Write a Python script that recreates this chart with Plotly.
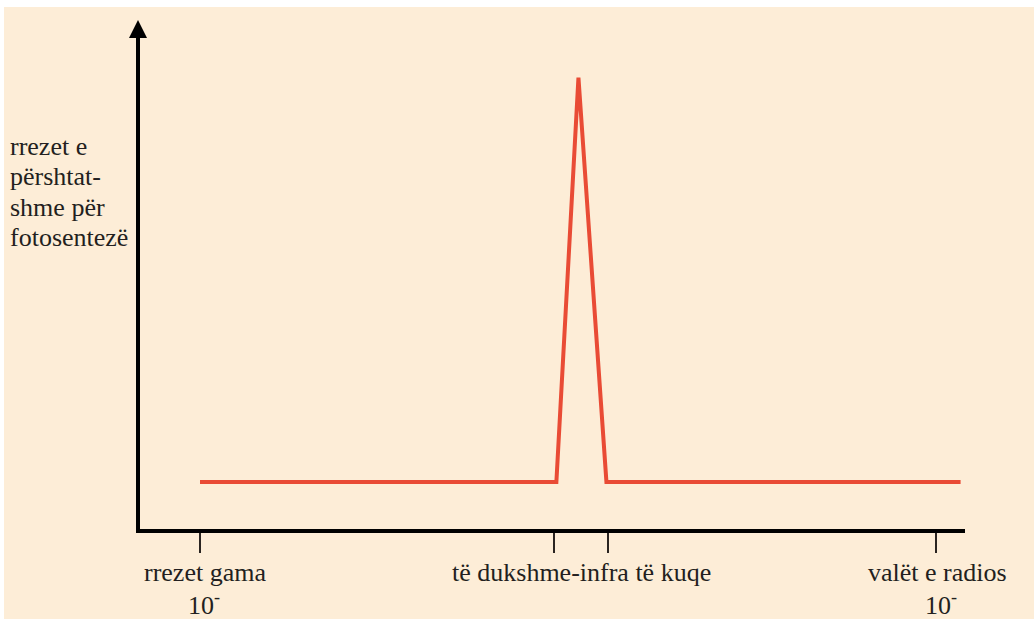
import plotly.graph_objects as go

# ---- data ----
curve_x = [0.0, 4.84, 5.14, 5.52, 10.33]
curve_y = [1.0, 1.0, 9.6, 1.0, 1.0]

tick_positions = [0.0, 4.81, 5.54, 10.0]

band_labels = ["rrezet gama", "të dukshme-infra të kuqe", "valët e radios"]
band_label_x = [0.07, 5.18, 10.02]
exponent_labels = ["10<sup>-</sup>", "10<sup>-</sup>"]
exponent_x = [0.0, 10.0]

y_label_lines = ["rrezet e", "përshtat-", "shme për", "fotosentezë"]

x_range = [-0.815, 10.39]
y_range = [0.0, 10.72]

BG = "#FDEDD7"
TXT = "#231F20"
FONT = "Liberation Serif"
FS = 26

ML, MR, MT, MB = 140, 69, 25, 90
W, H = 1034, 619
pw, ph = W - ML - MR, H - MT - MB


def px_x(px):
    return (px - ML) / pw


def px_y(py):
    return 1 - (py - MT) / ph


fig = go.Figure()
fig.add_trace(go.Scatter(
    x=curve_x, y=curve_y, mode="lines",
    line=dict(color="#E94B35", width=4),
    hoverinfo="skip", showlegend=False,
))

annotations = []
for lab, lx in zip(band_labels, band_label_x):
    annotations.append(dict(
        x=lx, y=px_y(572), xref="x", yref="paper", text=lab, showarrow=False,
        xanchor="center", yanchor="middle",
        font=dict(family=FONT, size=FS, color=TXT),
    ))
for lab, lx in zip(exponent_labels, exponent_x):
    annotations.append(dict(
        x=lx + 0.06, y=px_y(603), xref="x", yref="paper", text=lab, showarrow=False,
        xanchor="center", yanchor="middle",
        font=dict(family=FONT, size=FS, color=TXT),
    ))
for i, line in enumerate(y_label_lines):
    annotations.append(dict(
        x=px_x(8), y=px_y(146 + i * 30.5), xref="paper", yref="paper",
        text=line, showarrow=False, xanchor="left", yanchor="middle",
        font=dict(family=FONT, size=FS, color=TXT),
    ))

# arrowhead on y axis
annotations.append(dict(
    x=px_x(138), y=px_y(20), xref="paper", yref="paper", text="",
    showarrow=True, ax=0, ay=30, arrowhead=2, arrowsize=0.9,
    arrowwidth=4, arrowcolor="black",
))

shapes = [
    dict(type="rect", xref="paper", yref="paper",
         x0=px_x(-2), x1=px_x(W + 2), y0=px_y(7), y1=px_y(-2),
         fillcolor="white", line=dict(width=0), layer="above"),
    dict(type="rect", xref="paper", yref="paper",
         x0=px_x(-2), x1=px_x(4), y0=px_y(H + 2), y1=px_y(-2),
         fillcolor="white", line=dict(width=0), layer="above"),
]

fig.update_layout(
    width=W, height=H,
    margin=dict(l=ML, r=MR, t=MT, b=MB),
    paper_bgcolor=BG, plot_bgcolor=BG,
    xaxis=dict(range=x_range, showgrid=False, zeroline=False,
               showline=True, linecolor="black", linewidth=4,
               ticks="outside", tickvals=tick_positions, ticklen=20,
               tickwidth=2, tickcolor="#2a2420", showticklabels=False),
    yaxis=dict(range=y_range, showgrid=False, zeroline=False,
               showline=True, linecolor="black", linewidth=4,
               ticks="", showticklabels=False),
    annotations=annotations,
    shapes=shapes,
)

fig.write_html("out.html", config={"displayModeBar": False},
               post_script="document.body.style.margin='0';document.body.style.padding='0';")
